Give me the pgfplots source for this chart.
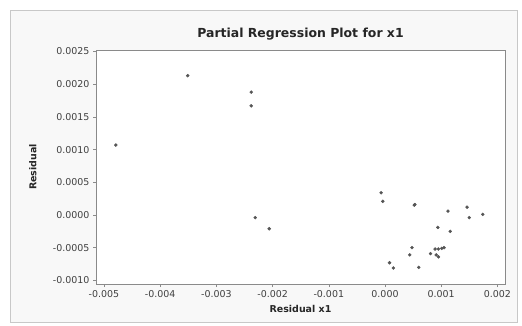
\documentclass[border=0pt]{standalone}
\usepackage{pgfplots}
\pgfplotsset{compat=1.18}
\usepackage{fontspec}
\setmainfont{DejaVu Sans}
\definecolor{frame}{HTML}{C8C8C8}
\definecolor{outbg}{HTML}{F8F8F8}
\definecolor{axcol}{HTML}{8A8A8A}
\definecolor{dotcol}{HTML}{555555}
\begin{document}
\begin{tikzpicture}[x=1bp,y=1bp]
\useasboundingbox (0,0) rectangle (522,325);
\draw[frame, fill=outbg, line width=0.8bp] (10,3) rectangle (517,315);
\begin{axis}[
  scale only axis,
  width=409bp, height=234bp,
  at={(96bp,41bp)}, anchor=south west,
  xmin=-0.005142, xmax=0.002135,
  ymin=-0.001055, ymax=0.002523,
  axis background/.style={fill=white},
  axis line style={axcol, line width=0.8bp},
  tick style={axcol, line width=0.6bp},
  tick align=outside,
  xtick pos=bottom, ytick pos=left,
  major tick length=3bp,
  xtick={-0.005,-0.004,-0.003,-0.002,-0.001,0,0.001,0.002},
  ytick={-0.001,-0.0005,0,0.0005,0.001,0.0015,0.002,0.0025},
  scaled ticks=false,
  /pgf/number format/assume math mode=true,
  xticklabel style={/pgf/number format/.cd, fixed, fixed zerofill, precision=3},
  yticklabel style={/pgf/number format/.cd, fixed, fixed zerofill, precision=4},
  ticklabel style={font=\fontsize{9.5}{11}\selectfont, text=black!75},
  xlabel={\textbf{Residual x1}},
  ylabel={\textbf{Residual}},
  label style={font=\fontsize{9.5}{11}\selectfont, text=black!85},
  xlabel style={at={(axis description cs:0.5,0)}, anchor=north, yshift=-18bp},
  ylabel style={at={(axis description cs:0,0.5)}, anchor=south, xshift=0bp, yshift=56bp},
  title={\textbf{Partial Regression Plot for x1}},
  title style={font=\fontsize{12.5}{14}\selectfont, text=black!85, at={(axis description cs:0.5,1)}, anchor=south, yshift=0bp},
  clip=false,
]
\addplot[only marks, mark=*, mark size=1.5bp, draw=dotcol, fill=dotcol] coordinates {
(-0.00479, 0.00107)
(-0.00351, 0.00213)
(-0.00238, 0.00188)
(-0.00238, 0.00167)
(-0.00231, -0.00004)
(-0.00206, -0.00021)
(-0.00007, 0.00034)
(-0.00004, 0.00021)
(0.00052, 0.00015)
(0.00053, 0.00016)
(0.00112, 0.00006)
(0.00146, 0.00012)
(0.00150, -0.00004)
(0.00174, 0.00001)
(0.00094, -0.00019)
(0.00116, -0.00025)
(0.00048, -0.00050)
(0.00044, -0.00061)
(0.00008, -0.00073)
(0.00015, -0.00081)
(0.00060, -0.00080)
(0.00081, -0.00059)
(0.00089, -0.00052)
(0.00095, -0.00052)
(0.00101, -0.00051)
(0.00105, -0.00050)
(0.00091, -0.00061)
(0.00095, -0.00064)
};
\end{axis}
\end{tikzpicture}
\end{document}
